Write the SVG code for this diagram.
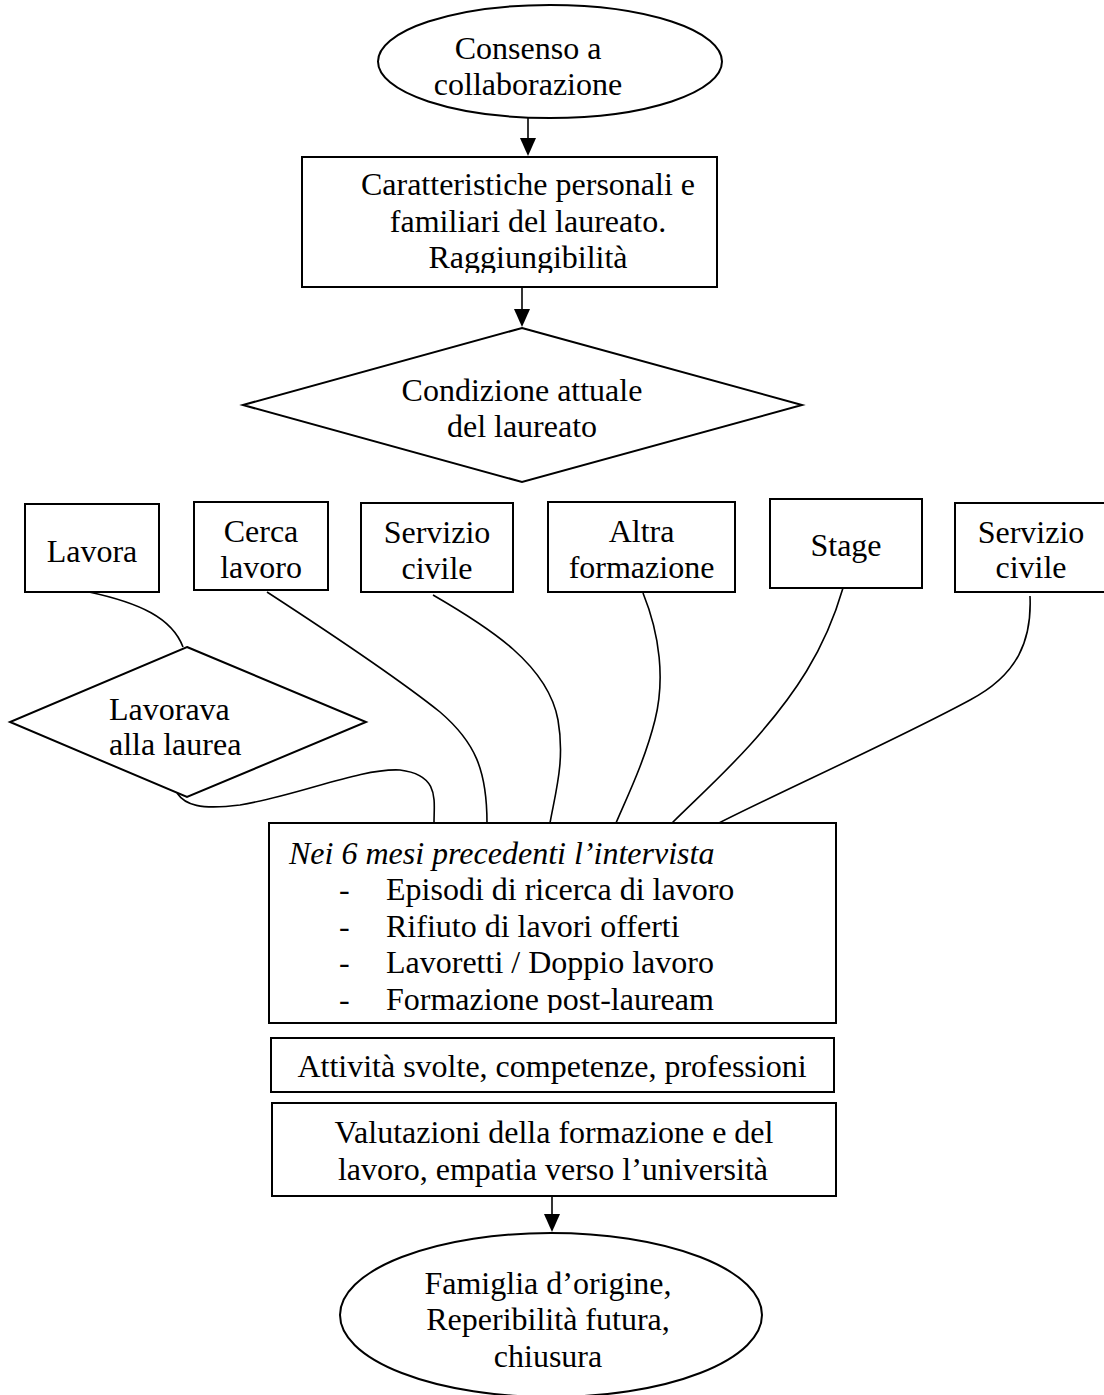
<svg xmlns="http://www.w3.org/2000/svg" width="1104" height="1395" viewBox="0 0 1104 1395">
<style>
  .shape { fill: #ffffff; stroke: #000000; stroke-width: 2; }
  .conn { fill: none; stroke: #000000; stroke-width: 1.6; }
  .t { font-family: "Liberation Serif", "Times New Roman", serif; font-size: 32px; fill: #000000; }
  .c { text-anchor: middle; }
  .i { font-style: italic; }
</style>
<defs>
  <marker id="arrow" markerWidth="16" markerHeight="18" refX="8" refY="17" orient="auto" markerUnits="userSpaceOnUse" viewBox="0 0 16 18">
    <path d="M0 0 L16 0 L8 18 Z" fill="#000000" transform="rotate(-90 8 9) translate(0 0)"/>
  </marker>
  <clipPath id="clipBox1"><rect x="300" y="150" width="460" height="123"/></clipPath>
  <clipPath id="clipBig"><rect x="265" y="820" width="580" height="193"/></clipPath>
</defs>

<rect width="1104" height="1395" fill="#ffffff"/>

<g id="connectors">
  <line class="conn" x1="528" y1="118" x2="528" y2="140"/>
  <path d="M520 138 L536 138 L528 156 Z" fill="#000"/>
  <line class="conn" x1="522" y1="287" x2="522" y2="310"/>
  <path d="M514 309 L530 309 L522 327 Z" fill="#000"/>
  <line class="conn" x1="552" y1="1196" x2="552" y2="1215"/>
  <path d="M544 1214 L560 1214 L552 1232 Z" fill="#000"/>
  <path class="conn" d="M89 592 C140 603, 172 618, 183 647"/>
  <path class="conn" d="M267 592 C330 633, 400 680, 440 712 C475 742, 487 770, 487 823"/>
  <path class="conn" d="M433 595 C490 628, 548 665, 558 720 C565 760, 556 790, 550 823"/>
  <path class="conn" d="M643 593 C660 635, 665 680, 655 720 C645 760, 628 795, 616 823"/>
  <path class="conn" d="M843 588 C825 650, 795 695, 750 745 C720 778, 695 800, 672 823"/>
  <path class="conn" d="M1030 596 C1032 640, 1018 675, 970 700 C900 738, 780 792, 719 823"/>
  <path class="conn" d="M177 793 C185 805, 200 810, 240 805 C300 795, 360 768, 400 770 C440 775, 434 800, 434 823"/>
</g>

<g id="start">
  <ellipse class="shape" cx="550" cy="61.5" rx="172" ry="56.5"/>
  <text class="t c" x="528" y="59">Consenso a</text>
  <text class="t c" x="528" y="95">collaborazione</text>
</g>

<g id="caratteristiche">
  <rect class="shape" x="302" y="157" width="415" height="130"/>
  <g clip-path="url(#clipBox1)">
    <text class="t c" x="528" y="195">Caratteristiche personali e</text>
    <text class="t c" x="528" y="232">familiari del laureato.</text>
    <text class="t c" x="528" y="268">Raggiungibilità</text>
  </g>
</g>

<g id="condizione">
  <polygon class="shape" points="522,328 802,405 522,482 243,405"/>
  <text class="t c" x="522" y="401">Condizione attuale</text>
  <text class="t c" x="522" y="437">del laureato</text>
</g>

<g id="lavora">
  <rect class="shape" x="25" y="504" width="134" height="88"/>
  <text class="t c" x="92" y="562">Lavora</text>
</g>

<g id="cerca-lavoro">
  <rect class="shape" x="194" y="502" width="134" height="88"/>
  <text class="t c" x="261" y="542">Cerca</text>
  <text class="t c" x="261" y="578">lavoro</text>
</g>

<g id="servizio-civile-1">
  <rect class="shape" x="361" y="503" width="152" height="89"/>
  <text class="t c" x="437" y="543">Servizio</text>
  <text class="t c" x="437" y="579">civile</text>
</g>

<g id="altra-formazione">
  <rect class="shape" x="548" y="502" width="187" height="90"/>
  <text class="t c" x="641.5" y="542">Altra</text>
  <text class="t c" x="641.5" y="578">formazione</text>
</g>

<g id="stage">
  <rect class="shape" x="770" y="499" width="152" height="89"/>
  <text class="t c" x="846" y="556">Stage</text>
</g>

<g id="servizio-civile-2">
  <rect class="shape" x="955" y="503" width="152" height="89"/>
  <text class="t c" x="1031" y="543">Servizio</text>
  <text class="t c" x="1031" y="578">civile</text>
</g>

<g id="lavorava">
  <polygon class="shape" points="187,647 366,722 187,797 10,722"/>
  <text class="t" x="109" y="720">Lavorava</text>
  <text class="t" x="109" y="755">alla laurea</text>
</g>

<g id="sei-mesi">
  <rect class="shape" x="269" y="823" width="567" height="200"/>
  <g clip-path="url(#clipBig)">
    <text class="t i" x="289" y="864">Nei 6 mesi precedenti l’intervista</text>
    <text class="t" x="339" y="900">-</text>
    <text class="t" x="386" y="900">Episodi di ricerca di lavoro</text>
    <text class="t" x="339" y="937">-</text>
    <text class="t" x="386" y="937">Rifiuto di lavori offerti</text>
    <text class="t" x="339" y="973">-</text>
    <text class="t" x="386" y="973">Lavoretti / Doppio lavoro</text>
    <text class="t" x="339" y="1010">-</text>
    <text class="t" x="386" y="1010">Formazione post-lauream</text>
  </g>
</g>

<g id="attivita">
  <rect class="shape" x="271" y="1038" width="563" height="54"/>
  <text class="t c" x="552" y="1077">Attività svolte, competenze, professioni</text>
</g>

<g id="valutazioni">
  <rect class="shape" x="272" y="1103" width="564" height="93"/>
  <text class="t c" x="554" y="1143">Valutazioni della formazione e del</text>
  <text class="t c" x="553" y="1180">lavoro, empatia verso l’università</text>
</g>

<g id="fine">
  <ellipse class="shape" cx="551" cy="1315" rx="211" ry="82"/>
  <text class="t c" x="548" y="1294">Famiglia d’origine,</text>
  <text class="t c" x="548" y="1330">Reperibilità futura,</text>
  <text class="t c" x="548" y="1367">chiusura</text>
</g>
</svg>
